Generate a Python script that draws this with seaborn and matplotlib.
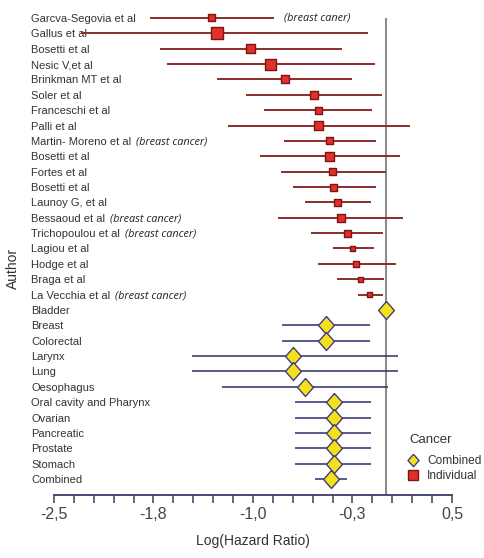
import numpy as np
import pandas as pd
import matplotlib
matplotlib.use("Agg")
import matplotlib.pyplot as plt
from matplotlib.lines import Line2D
import seaborn as sns

# ================= Data =================
authors = ["Garcva-Segovia et al", "Gallus et al", "Bosetti et al", "Nesic V,et al",
           "Brinkman MT et al", "Soler et al", "Franceschi et al", "Palli et al",
           "Martin- Moreno et al", "Bosetti et al", "Fortes et al", "Bosetti et al",
           "Launoy G, et al", "Bessaoud et al", "Trichopoulou et al", "Lagiou et al",
           "Hodge et al", "Braga et al", "La Vecchia et al"]
ind_est = [-1.31, -1.27, -1.02, -0.87, -0.76, -0.54, -0.51, -0.51, -0.42, -0.42,
           -0.40, -0.39, -0.36, -0.34, -0.29, -0.25, -0.22, -0.19, -0.12]
ind_lo = [-1.78, -2.30, -1.70, -1.65, -1.27, -1.05, -0.92, -1.19, -0.77, -0.95,
          -0.79, -0.70, -0.61, -0.81, -0.56, -0.40, -0.51, -0.365, -0.21]
ind_hi = [-0.84, -0.13, -0.33, -0.08, -0.25, -0.03, -0.10, 0.18, -0.07, 0.11,
          0.00, -0.07, -0.11, 0.13, -0.02, -0.09, 0.075, -0.01, -0.02]
ind_weight = [7, 12, 9, 11, 8, 8, 7, 9, 7, 9, 7, 7, 7, 8, 7, 5, 6, 5, 5]

# notes shown after the author name (index -> text)
notes = {8: "(breast cancer)", 13: "(breast cancer)", 14: "(breast cancer)",
         18: "(breast cancer)"}
garcva_note = "(breast caner)"

groups = ["Bladder", "Breast", "Colorectal", "Larynx", "Lung", "Oesophagus",
          "Oral cavity and Pharynx", "Ovarian", "Pancreatic", "Prostate",
          "Stomach", "Combined"]
grp_est = [0.0, -0.45, -0.45, -0.70, -0.70, -0.61, -0.39, -0.39, -0.39, -0.39, -0.39, -0.415]
grp_lo = [-0.02, -0.78, -0.78, -1.46, -1.46, -1.23, -0.68, -0.68, -0.68, -0.68, -0.68, -0.53]
grp_hi = [0.02, -0.12, -0.12, 0.09, 0.09, 0.02, -0.11, -0.11, -0.11, -0.11, -0.11, -0.29]

xticks = [-2.5, -1.75, -1.0, -0.25, 0.5]
xtick_labels = ["-2,5", "-1,8", "-1,0", "-0,3", "0,5"]

# ================= Frames =================
ind = pd.DataFrame({"label": authors, "est": ind_est, "lo": ind_lo, "hi": ind_hi,
                    "w": ind_weight, "Cancer": "Individual"})
grp = pd.DataFrame({"label": groups, "est": grp_est, "lo": grp_lo, "hi": grp_hi,
                    "w": 18, "Cancer": "Combined"})
df = pd.concat([ind, grp], ignore_index=True)
df["row"] = np.arange(len(df))
df["area"] = (df["w"] * 0.72) ** 2   # px side -> pt^2
ii = df[df["Cancer"] == "Individual"]
gi = df[df["Cancer"] == "Combined"]

# ================= Style =================
sns.set_theme(style="white")
plt.rcParams["font.family"] = ["Liberation Sans", "DejaVu Sans"]

DPI = 100
fig = plt.figure(figsize=(4.85, 5.58), dpi=DPI)
ax = fig.add_axes([54 / 485, 1 - 495 / 558, (452 - 54) / 485, (495 - 2) / 558])

red_line = "#8a2c2c"
navy_line = "#2c2c72"
sq_fill, sq_edge = "#e2302a", "#7c1414"
dia_fill, dia_edge = "#f2e21c", "#4a3a7c"

# confidence intervals
ax.hlines(ii["row"], ii["lo"], ii["hi"], color=red_line, lw=1.4, zorder=2)
ax.hlines(gi["row"], gi["lo"], gi["hi"], color=navy_line, lw=1.1, zorder=2)

# reference line at zero
nrows = len(df)
ax.vlines(0, 0, nrows - 1 + 1.04, color="#8c8c8c", lw=1.5, zorder=1)

# markers
sns.scatterplot(data=ii, x="est", y="row", size="area", sizes=(ii["area"].min(), ii["area"].max()),
                size_norm=(ii["area"].min(), ii["area"].max()), marker="s",
                color=sq_fill, edgecolor=sq_edge, linewidth=1, legend=False, ax=ax, zorder=3)
diamond = [(0, 1), (0.88, 0), (0, -1), (-0.88, 0), (0, 1)]
sns.scatterplot(data=gi, x="est", y="row", marker=diamond, s=(18 * 0.72) ** 2,
                color=dia_fill, edgecolor=dia_edge, linewidth=1, legend=False, ax=ax, zorder=3)

# ================= Axes =================
ax.set_xlim(-2.5, 0.5)
ax.set_ylim(nrows - 1 + 1.04, -1.04)
ax.set_xticks(xticks)
ax.set_xticklabels(xtick_labels)
ax.set_xticks(np.arange(-2.5, 0.51, 0.15), minor=True)
ax.tick_params(axis="x", which="both", direction="out", length=5.6, width=1.1,
               color="#3a3a6a", bottom=True, pad=3, labelsize=11.5, labelcolor="#444444")

ax.set_yticks(df["row"])
ax.set_yticklabels(df["label"])
ax.tick_params(axis="y", length=0, pad=23 * 0.72, labelsize=8, labelcolor="#333333")
for lbl in ax.get_yticklabels():
    lbl.set_ha("left")

for s in ["top", "right", "left"]:
    ax.spines[s].set_visible(False)
ax.spines["bottom"].set_color("#3a3a6a")
ax.spines["bottom"].set_linewidth(1.3)

ax.set_xlabel("Log(Hazard Ratio)", fontsize=10, color="#333333", labelpad=9)
ax.set_ylabel("Author", fontsize=10, color="#333333", ha="center", va="center")
ax.yaxis.set_label_coords(-41 / 398, 0.46)

# italic notes
note_font = dict(family=["Open Sans", "DejaVu Sans"], style="italic", fontsize=7.8, color="#222222")
labels = ax.get_yticklabels()
for i, txt in notes.items():
    ax.annotate(txt, xy=(1, 0.5), xycoords=labels[i], xytext=(3.5, 0),
                textcoords="offset points", va="center", ha="left", **note_font)
ax.annotate(garcva_note, xy=(ind_hi[0], 0), xycoords="data", xytext=(7, 0),
            textcoords="offset points", va="center", ha="left", **note_font)

# ================= Legend =================
fig.text(409 / 485, 1 - 440 / 558, "Cancer", fontsize=9.5, color="#333333",
         ha="left", va="center")
handles = [Line2D([], [], marker=diamond, ls="", ms=9, mfc=dia_fill, mec=dia_edge, mew=1),
           Line2D([], [], marker="s", ls="", ms=7, mfc=sq_fill, mec=sq_edge, mew=1)]
leg = fig.legend(handles, ["Combined", "Individual"], frameon=False,
                 loc="upper left", bbox_to_anchor=(399 / 485, 1 - 447 / 558),
                 fontsize=8.6, handlelength=1, handletextpad=0.65,
                 labelspacing=0.2, borderpad=0.2)
for t in leg.get_texts():
    t.set_color("#333333")

fig.savefig("out.png", dpi=DPI)
